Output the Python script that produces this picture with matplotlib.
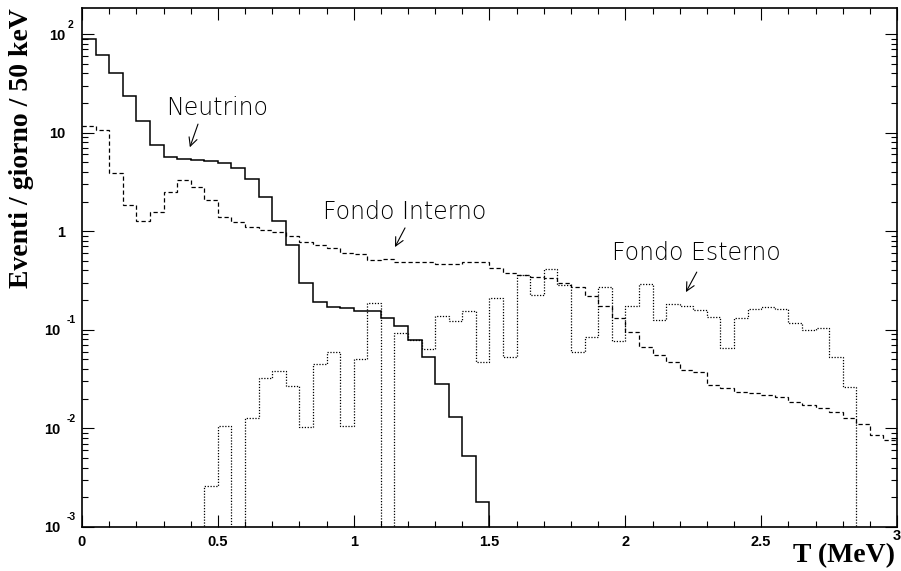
import numpy as np
import matplotlib
matplotlib.use('Agg')
import matplotlib.pyplot as plt
from matplotlib.ticker import FixedLocator, NullFormatter, MultipleLocator, LogLocator
from matplotlib.transforms import offset_copy

# ---------------- data (events / day / 50 keV) ----------------
bin_width = 0.05
n_bins = 60
edges = np.arange(n_bins + 1) * bin_width

neutrino = [90, 61, 40, 23.7, 13.1, 7.5, 5.7, 5.4, 5.3, 5.1,
            4.9, 4.35, 3.36, 2.24, 1.27, 0.72, 0.296, 0.193, 0.169, 0.165,
            0.155, 0.155, 0.133, 0.110, 0.079, 0.0526, 0.028, 0.0131, 0.00525, 0.00178,
            0, 0, 0, 0, 0, 0, 0, 0, 0, 0,
            0, 0, 0, 0, 0, 0, 0, 0, 0, 0,
            0, 0, 0, 0, 0, 0, 0, 0, 0, 0]

fondo_interno = [11.7, 10.6, 3.92, 1.85, 1.28, 1.56, 2.48, 3.31, 2.79, 2.07,
                 1.38, 1.25, 1.11, 1.03, 0.98, 0.89, 0.78, 0.72, 0.67, 0.60,
                 0.59, 0.51, 0.52, 0.49, 0.49, 0.49, 0.465, 0.465, 0.49, 0.49,
                 0.42, 0.38, 0.36, 0.346, 0.333, 0.296, 0.27, 0.22, 0.174, 0.131,
                 0.0957, 0.0675, 0.0555, 0.0471, 0.0391, 0.0373, 0.0275, 0.0257, 0.0234, 0.0229,
                 0.0218, 0.0208, 0.0185, 0.0173, 0.0161, 0.0147, 0.0127, 0.0111, 0.0086, 0.0076]

fondo_esterno = [0, 0, 0, 0, 0, 0, 0, 0, 0, 0.0026,
                 0.0106, 0, 0.0128, 0.0322, 0.0382, 0.0269, 0.0104, 0.0447, 0.0591, 0.0106,
                 0.0506, 0.186, 0, 0.092, 0.079, 0.0638, 0.139, 0.124, 0.156, 0.0475,
                 0.212, 0.0526, 0.36, 0.225, 0.41, 0.284, 0.059, 0.084, 0.274, 0.077,
                 0.174, 0.289, 0.126, 0.183, 0.174, 0.159, 0.136, 0.065, 0.131, 0.161,
                 0.169, 0.161, 0.116, 0.0995, 0.105, 0.053, 0.0265, 0, 0, 0]

x_ticks = [0, 0.5, 1, 1.5, 2, 2.5, 3]
x_tick_labels = ['0', '0.5', '1', '1.5', '2', '2.5', '3']
y_exponents = [-3, -2, -1, 0, 1, 2]

# ---------------- figure ----------------
W, H = 901, 571
fig = plt.figure(figsize=(W / 100, H / 100), dpi=100)
ax = fig.add_axes([82 / W, 1 - 527 / H, 815 / W, 519 / H])

def floor_zero(v):
    v = np.asarray(v, dtype=float)
    return np.where(v > 0, v, 1e-9)

ax.stairs(floor_zero(neutrino), edges, baseline=None, color='black', lw=1.1)
ax.stairs(floor_zero(fondo_interno), edges, baseline=None, color='black', lw=0.9,
          linestyle=(0, (3.4, 2.2)))
ax.stairs(floor_zero(fondo_esterno), edges, baseline=None, color='black', lw=0.9,
          linestyle=(0, (1.0, 1.3)))

ax.set_yscale('log')
ax.set_xlim(0, 3)
ax.set_ylim(1e-3, 183.6)

for s in ax.spines.values():
    s.set_linewidth(1.2)

# x ticks
ax.xaxis.set_major_locator(FixedLocator(x_ticks))
ax.xaxis.set_minor_locator(MultipleLocator(0.1))
ax.set_xticklabels([l if l != '3' else '' for l in x_tick_labels],
                   fontsize=10.5, fontweight='bold', family='Liberation Sans')
ax.tick_params(axis='x', which='major', direction='in', length=8.3, width=0.8,
               top=True, bottom=True, pad=6.0)
ax.tick_params(axis='x', which='minor', direction='in', length=4.3, width=0.8,
               top=True, bottom=True)
# last x label, raised as in the reference
ax.text(3, 0, x_tick_labels[-1],
        transform=offset_copy(ax.get_xaxis_transform(), fig=fig, x=0, y=-1.5, units='dots'),
        ha='center', va='top', fontsize=10.5, fontweight='bold', family='Liberation Sans')

# y ticks
ax.yaxis.set_major_locator(FixedLocator([10.0 ** e for e in y_exponents]))
ax.yaxis.set_minor_locator(LogLocator(base=10, subs=np.arange(2, 10)))
ax.yaxis.set_major_formatter(NullFormatter())
ax.yaxis.set_minor_formatter(NullFormatter())
ax.tick_params(axis='y', which='major', direction='in', length=8.6, width=0.8,
               left=True, right=True)
ax.tick_params(axis='y', which='minor', direction='in', length=4.5, width=0.8,
               left=True, right=True)

ytr = ax.get_yaxis_transform()
for e in y_exponents:
    v = 10.0 ** e
    if e in (0, 1):
        txt = '1' if e == 0 else '10'
        ax.text(0, v, txt, transform=offset_copy(ytr, fig=fig, x=-17, y=-1.5, units='dots'),
                ha='right', va='center', fontsize=10.5, fontweight='bold', family='Liberation Sans')
    else:
        base_dx = -17 if e > 0 else -22
        exp_dx = -14 if e > 0 else -15
        ax.text(0, v, '10', transform=offset_copy(ytr, fig=fig, x=base_dx, y=-1.5, units='dots'),
                ha='right', va='center', fontsize=10.5, fontweight='bold', family='Liberation Sans')
        ax.text(0, v, str(e), transform=offset_copy(ytr, fig=fig, x=exp_dx, y=9.5, units='dots'),
                ha='left', va='center', fontsize=7.5, fontweight='bold', family='Liberation Sans')

# axis titles
fig.text(22 / W, 1 - 8 / H, 'Eventi / giorno / 50 keV', rotation=90, ha='center', va='top',
         fontsize=20, fontweight='bold', family='Liberation Serif')
fig.text(895 / W, 1 - 568 / H, 'T (MeV)', ha='right', va='bottom',
         fontsize=20, fontweight='bold', family='Liberation Serif')

# annotations
afont = dict(fontsize=17, family='DejaVu Sans', fontweight='light')
arrow = dict(arrowstyle='->', lw=0.8, color='black', shrinkA=0, shrinkB=0,
             mutation_scale=15)
ax.text(0.497, 17.8, 'Neutrino', ha='center', va='center', **afont)
ax.annotate('', xy=(0.397, 7.1), xytext=(0.427, 12.2), arrowprops=arrow)
ax.text(1.189, 1.57, 'Fondo Interno', ha='center', va='center', **afont)
ax.annotate('', xy=(1.152, 0.69), xytext=(1.189, 1.08), arrowprops=arrow)
ax.text(2.26, 0.60, 'Fondo Esterno', ha='center', va='center', **afont)
ax.annotate('', xy=(2.223, 0.241), xytext=(2.263, 0.385), arrowprops=arrow)

fig.savefig('out.png', dpi=100)
